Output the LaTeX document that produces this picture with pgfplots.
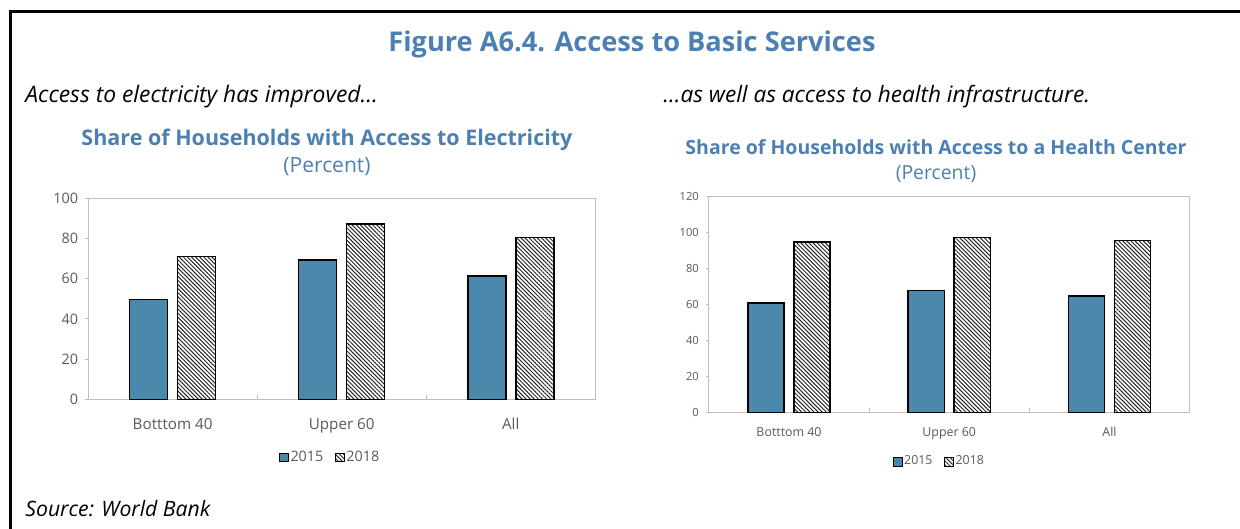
\documentclass[border=0pt]{standalone}
\usepackage{fontspec}
\setmainfont{Open Sans}
\usepackage{pgfplots}
\pgfplotsset{compat=1.18}
\usetikzlibrary{patterns.meta}
\definecolor{barblue}{HTML}{4A89AC}
\definecolor{titleblue}{HTML}{4D80B2}
\definecolor{ticktext}{HTML}{595959}
\definecolor{axisgrey}{HTML}{BFBFBF}
\pgfplotsset{
  mybar/.style={
    scale only axis, ybar, ymin=0, xmin=-0.5, xmax=2.5,
    xtick={0,1,2}, xticklabels={Botttom 40,Upper 60,All},
    axis line style={axisgrey, line width=0.5pt},
    xtick style={draw=none},
    ytick style={draw=axisgrey, line width=0.5pt},
    major tick length=1.5pt, tick align=outside,
    xtick pos=bottom, ytick pos=left,
    extra x ticks={0.5,1.5}, extra x tick labels={},
    extra x tick style={xtick style={draw=axisgrey, line width=0.5pt}, major tick length=2pt, tick align=inside},
    tick label style={text=ticktext},
    /pgf/number format/assume math mode=true,
    area legend,
    legend columns=2,
    legend image code/.code={\draw[#1, line width=0.5pt] (0pt,-2.2pt) rectangle (4.4pt,2.2pt);},
    legend style={draw=none, fill=none, anchor=center, text=ticktext,
      nodes={inner xsep=0.8pt},
      /tikz/every even column/.append style={column sep=5pt}},
    clip=false,
  },
  b15/.style={fill=barblue, draw=black, line width=0.75pt},
  b18/.style={pattern={Lines[angle=-45,distance=1.45pt,line width=0.5pt]}, pattern color=black!85, draw=black, line width=0.75pt},
}
\begin{document}
\begin{tikzpicture}[x=0.5pt,y=-0.5pt]
\useasboundingbox (0,0) rectangle (1240,529);
\draw[line width=1.5pt] (10,540) -- (10,12) -- (1250,12);
\node[anchor=base, inner sep=0, font=\bfseries\fontsize{13.6}{15}\selectfont, text=titleblue] at (632,52) {Figure A6.4. Access to Basic Services};
\node[anchor=base west, inner sep=0, font=\itshape\fontsize{11.4}{13}\selectfont] at (25,103) {Access to electricity has improved…};
\node[anchor=base west, inner sep=0, font=\itshape\fontsize{11.3}{13}\selectfont] at (663,103) {…as well as access to health infrastructure.};
\node[anchor=base, inner sep=0, font=\bfseries\fontsize{10.75}{12}\selectfont, text=titleblue] at (327,146) {Share of Households with Access to Electricity};
\node[anchor=base, inner sep=0, font=\fontsize{10.5}{12}\selectfont, text=titleblue] at (327,173) {(Percent)};
\node[anchor=base, inner sep=0, font=\bfseries\fontsize{9.75}{12}\selectfont, text=titleblue] at (936,155) {Share of Households with Access to a Health Center};
\node[anchor=base, inner sep=0, font=\fontsize{9.7}{12}\selectfont, text=titleblue] at (936,180) {(Percent)};
\node[anchor=base west, inner sep=0, font=\itshape\fontsize{10.6}{12}\selectfont] at (25,516) {Source: World Bank};

\begin{axis}[mybar,
  at={(44.05pt,-199.65pt)}, anchor=south west,
  width=253.6pt, height=100.5pt,
  ymax=100, ytick={0,20,...,100},
  bar width=19pt,
  tick label style={font=\fontsize{7.2}{8}\selectfont},
  xticklabel style={font=\fontsize{7.6}{8.5}\selectfont, yshift=-4.5pt},
  legend style={at={(0.477,-0.29)}, font=\fontsize{7.2}{8}\selectfont},
]
\addplot[b15, bar shift=-12pt] coordinates {(0,49.7) (1,69.3) (2,61.4)};
\addplot[b18, bar shift=12pt] coordinates {(0,71.0) (1,87.2) (2,80.6)};
\legend{2015,2018}
\end{axis}

\begin{axis}[mybar,
  at={(354.45pt,-206.15pt)}, anchor=south west,
  width=240.35pt, height=107.8pt,
  ymax=120, ytick={0,20,...,120},
  bar width=18.2pt,
  tick label style={font=\fontsize{5.6}{6.5}\selectfont},
  xticklabel style={font=\fontsize{6.2}{7}\selectfont, yshift=-2.5pt},
  legend style={at={(0.479,-0.229)}, font=\fontsize{6.2}{7}\selectfont},
]
\addplot[b15, bar shift=-11.5pt] coordinates {(0,60.8) (1,67.7) (2,64.7)};
\addplot[b18, bar shift=11.5pt] coordinates {(0,94.8) (1,97.4) (2,95.7)};
\legend{2015,2018}
\end{axis}
\end{tikzpicture}
\end{document}
